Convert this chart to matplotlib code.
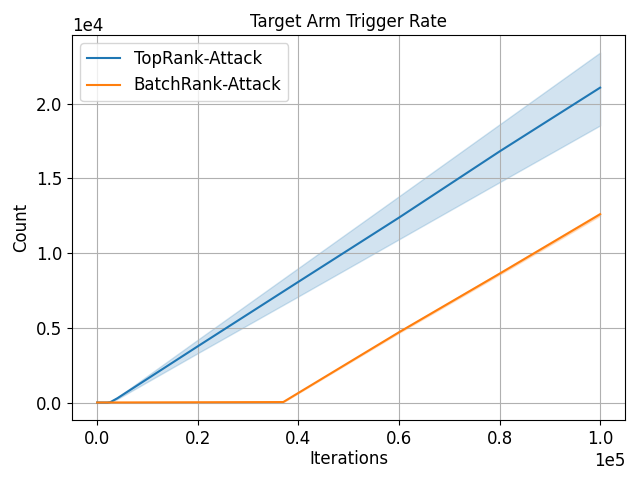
import matplotlib
matplotlib.use("Agg")
import matplotlib.pyplot as plt
import numpy as np

# TopRank-Attack (mean and band)
top_x = [0, 2000, 2600, 4000, 20000, 40000, 60000, 80000, 100000]
top_mean = [0, 0, 20, 280, 3760, 8074, 12370, 16800, 21070]
top_low = [0, 0, 10, 230, 3300, 7100, 10920, 14740, 18540]
top_high = [0, 0, 30, 340, 4200, 9000, 13800, 18610, 23420]

# BatchRank-Attack (mean and band)
batch_x = [0, 37000, 60000, 80000, 100000]
batch_mean = [0, 30, 4700, 8620, 12600]
batch_low = [0, 20, 4650, 8550, 12500]
batch_high = [0, 40, 4750, 8690, 12700]

fig, ax = plt.subplots(figsize=(6.4, 4.8), dpi=100)
ax.plot(top_x, top_mean, color="#1f77b4", label="TopRank-Attack")
ax.fill_between(top_x, top_low, top_high, color="#1f77b4", alpha=0.2)
ax.plot(batch_x, batch_mean, color="#ff7f0e", label="BatchRank-Attack")
ax.fill_between(batch_x, batch_low, batch_high, color="#ff7f0e", alpha=0.2)

ax.set_title("Target Arm Trigger Rate", fontsize=12)
ax.set_xlabel("Iterations", fontsize=12, labelpad=2)
ax.set_ylabel("Count", fontsize=12)
ax.ticklabel_format(style="sci", axis="both", scilimits=(0, 0))
ax.tick_params(labelsize=12)
ax.xaxis.get_offset_text().set_fontsize(12)
ax.yaxis.get_offset_text().set_fontsize(12)
ax.grid(True)
ax.legend(loc="upper left", fontsize=12)
fig.subplots_adjust(left=0.1125, right=0.977, top=0.927, bottom=0.125)
fig.savefig("out.png")
